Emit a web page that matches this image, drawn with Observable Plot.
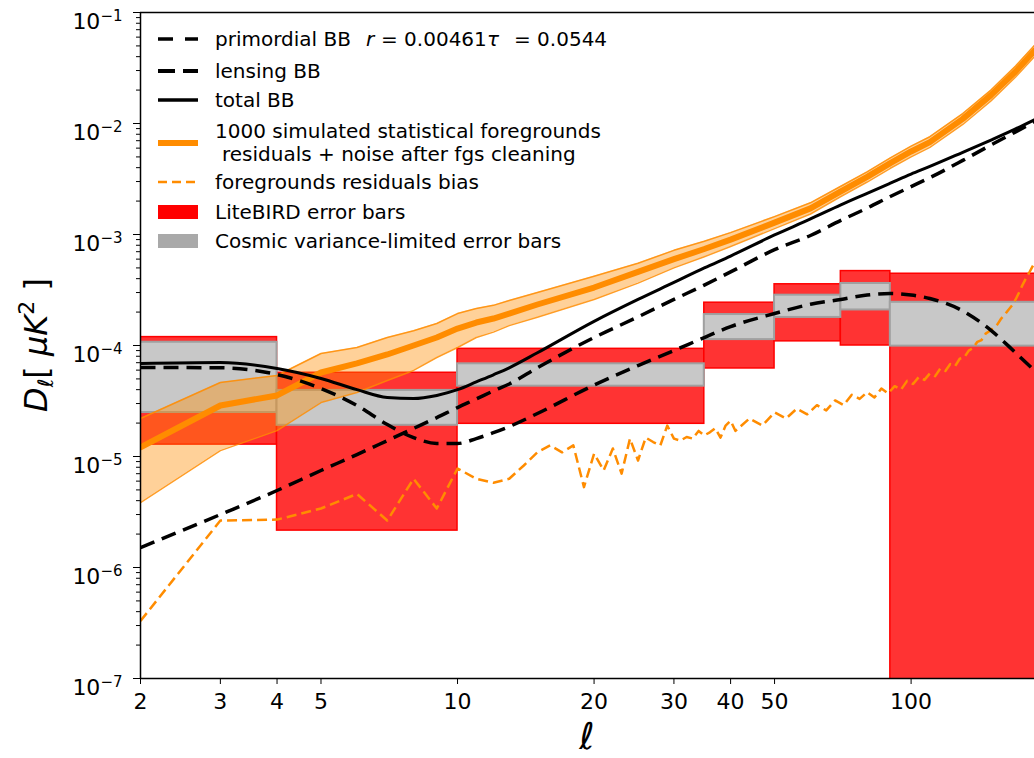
<!DOCTYPE html>
<html><head><meta charset="utf-8">
<script src="https://cdn.jsdelivr.net/npm/d3@7"></script>
<script src="https://cdn.jsdelivr.net/npm/@observablehq/plot@0.6"></script>
<style>
html,body{margin:0;padding:0;background:#fff;}
#chart svg{display:block;}
</style></head>
<body><div id="chart"></div>
<script>
// ---- data ----
const ell = [2,3,4,5,6,7,8,9,10,11,12,13,15,20,25,30,35,40,50,60,70,80,90,100,110,130,150,170,187];
const primordialBB = [6.34e-5,6.3e-5,5.48e-5,4.1e-5,2.88e-5,1.94e-5,1.48e-5,1.31e-5,1.31e-5,1.45e-5,1.64e-5,1.86e-5,2.44e-5,4.4e-5,6.6e-5,9.0e-5,1.18e-4,1.48e-4,1.94e-4,2.35e-4,2.6e-4,2.85e-4,2.94e-4,2.85e-4,2.65e-4,2.05e-4,1.37e-4,8.6e-5,5.96e-5];
const lensingBB = [1.51e-6,3.0e-6,4.94e-6,7.48e-6,1.04e-5,1.39e-5,1.79e-5,2.24e-5,2.76e-5,3.3e-5,3.9e-5,4.5e-5,6.3e-5,1.18e-4,1.81e-4,2.6e-4,3.5e-4,4.6e-4,7.3e-4,9.8e-4,1.34e-3,1.73e-3,2.2e-3,2.7e-3,3.25e-3,4.65e-3,6.4e-3,8.4e-3,1.04e-2];
const totalBB = [6.89e-5,7.03e-5,6.21e-5,5.05e-5,4.0e-5,3.4e-5,3.33e-5,3.55e-5,4.0e-5,4.7e-5,5.45e-5,6.3e-5,8.6e-5,1.65e-4,2.6e-4,3.7e-4,5.0e-4,6.4e-4,9.9e-4,1.38e-3,1.85e-3,2.35e-3,2.9e-3,3.5e-3,4.1e-3,5.5e-3,7.1e-3,8.95e-3,1.08e-2];
const fgMedian = [1.21e-5,2.88e-5,3.55e-5,5.71e-5,6.89e-5,8.3e-5,1.0e-4,1.18e-4,1.42e-4,1.61e-4,1.75e-4,1.94e-4,2.34e-4,3.33e-4,4.6e-4,6.0e-4,7.4e-4,9.0e-4,1.28e-3,1.72e-3,2.45e-3,3.3e-3,4.4e-3,5.6e-3,6.8e-3,1.1e-2,1.8e-2,2.94e-2,4.5e-2];
const fgLow = [3.85e-6,1.13e-5,1.71e-5,3.06e-5,3.77e-5,4.84e-5,5.96e-5,7.8e-5,9.6e-5,1.18e-4,1.32e-4,1.51e-4,1.8e-4,2.6e-4,3.65e-4,5.0e-4,6.3e-4,7.8e-4,1.13e-3,1.53e-3,2.2e-3,2.97e-3,3.95e-3,5.0e-3,6.1e-3,9.8e-3,1.6e-2,2.62e-2,4.0e-2];
const fgHigh = [2.2e-5,4.64e-5,5.37e-5,8.47e-5,9.6e-5,1.18e-4,1.36e-4,1.58e-4,1.94e-4,2.15e-4,2.3e-4,2.54e-4,3.0e-4,4.2e-4,5.5e-4,7.2e-4,8.7e-4,1.04e-3,1.45e-3,1.93e-3,2.72e-3,3.67e-3,4.9e-3,6.25e-3,7.6e-3,1.23e-2,2.0e-2,3.3e-2,5.05e-2];

const ellBias = [2,3,4,5,6,7,8,9,10,11,12,13,14,15,16,17,18,19,20,21,22,23,24,25,26,27,28,29,30,31,32,33,34,35,36,37,38,39,40,
  41,44,47,50,53,56,59,62,65,68,71,74,77,80,83,86,89,92,95,98,101,104,107,110,113,116,119,122,125,128,131,134,137,140,143,146,149,152,155,158,161,164,167,170,173,176,179,182,185,187];
const fgBias = [3.3e-7,2.65e-6,2.7e-6,3.4e-6,4.6e-6,2.65e-6,6.3e-6,3.4e-6,7.8e-6,6.3e-6,5.8e-6,6.3e-6,8.3e-6,1.09e-5,1.26e-5,1.09e-5,1.26e-5,5.3e-6,1.06e-5,7.5e-6,1.18e-5,7.0e-6,1.45e-5,9.2e-6,1.48e-5,1.35e-5,1.26e-5,1.9e-5,1.45e-5,1.39e-5,1.5e-5,1.45e-5,1.7e-5,1.55e-5,1.65e-5,1.8e-5,1.48e-5,1.9e-5,2.1e-5,
  1.7e-5,2.2e-5,1.9e-5,2.5e-5,2.2e-5,2.7e-5,2.4e-5,2.9e-5,2.6e-5,3.2e-5,2.9e-5,3.6e-5,3.3e-5,3.8e-5,3.4e-5,4.1e-5,3.7e-5,4.3e-5,4.0e-5,4.8e-5,4.5e-5,5.2e-5,4.9e-5,5.6e-5,5.3e-5,6.2e-5,5.9e-5,6.8e-5,6.5e-5,7.6e-5,7.8e-5,9.0e-5,9.5e-5,1.08e-4,1.12e-4,1.28e-4,1.35e-4,1.45e-4,1.55e-4,1.75e-4,1.9e-4,2.1e-4,2.3e-4,2.6e-4,3.0e-4,3.5e-4,4.0e-4,4.5e-4,5.1e-4,5.5e-4];

const binLo = [2,4,10,35,50,70,90];
const binHi = [4,10,35,50,70,90,200];
const liteLow = [1.28e-5,2.15e-6,1.97e-5,6.21e-5,1.09e-4,1.0e-4,1e-8];
const liteHigh = [1.19e-4,5.68e-5,9.33e-5,2.43e-4,3.56e-4,4.68e-4,4.43e-4];
const cvLow = [2.49e-5,1.91e-5,4.30e-5,1.13e-4,1.79e-4,2.09e-4,9.87e-5];
const cvHigh = [1.07e-4,3.94e-5,6.84e-5,1.90e-4,2.84e-4,3.62e-4,2.45e-4];

const xTicks = [2,3,4,5,10,20,30,40,50,100];
const yTicks = [1e-7,1e-6,1e-5,1e-4,1e-3,1e-2,1e-1];
const yMinor = [];
for (let e = -7; e < -1; e++) for (let m = 2; m <= 9; m++) yMinor.push(m * Math.pow(10, e));

// ---- tables ----
const curves = ell.map((l, i) => ({l, prim: primordialBB[i], lens: lensingBB[i], tot: totalBB[i], med: fgMedian[i], lo: fgLow[i], hi: fgHigh[i]}));
const bias = ellBias.map((l, i) => ({l, v: fgBias[i]}));
const bins = binLo.map((a, i) => ({a, b: binHi[i], rl: liteLow[i], rh: liteHigh[i], cl: cvLow[i], ch: cvHigh[i]}));

const ORANGE = "#ff8c00";
const plot = Plot.plot({
  width: 1034, height: 758,
  marginLeft: 140, marginRight: 0, marginTop: 12, marginBottom: 80,
  x: {type: "log", domain: [2, 187.1]},
  y: {type: "log", domain: [1e-7, 1e-1]},
  style: {fontFamily: "DejaVu Sans", background: "white", color: "black"},
  marks: [
    Plot.rectY(bins, {x1: "a", x2: "b", y1: "rl", y2: "rh", fill: "#ff3333", stroke: "#ff0000", strokeWidth: 1.5, clip: true}),
    Plot.rectY(bins, {x1: "a", x2: "b", y1: "cl", y2: "ch", fill: "#c8c8c8", stroke: "#a0a0a0", strokeWidth: 2, clip: true}),
    Plot.areaY(curves, {x: "l", y1: "lo", y2: "hi", fill: ORANGE, fillOpacity: 0.4, clip: true}),
    Plot.line(curves, {x: "l", y: "lo", stroke: ORANGE, strokeWidth: 1.5, strokeOpacity: 0.85, clip: true}),
    Plot.line(curves, {x: "l", y: "hi", stroke: ORANGE, strokeWidth: 1.5, strokeOpacity: 0.85, clip: true}),
    Plot.line(curves, {x: "l", y: "med", stroke: ORANGE, strokeWidth: 6, clip: true}),
    Plot.line(bias, {x: "l", y: "v", stroke: ORANGE, strokeWidth: 2.5, strokeDasharray: "10,5", strokeLinecap: "butt", clip: true}),
    Plot.line(curves, {x: "l", y: "lens", stroke: "black", strokeWidth: 3.5, strokeDasharray: "15,8", strokeLinecap: "butt", curve: "monotone-x", clip: true}),
    Plot.line(curves, {x: "l", y: "prim", stroke: "black", strokeWidth: 3.5, strokeDasharray: "15,8", strokeLinecap: "butt", curve: "monotone-x", clip: true}),
    Plot.line(curves, {x: "l", y: "tot", stroke: "black", strokeWidth: 3, curve: "monotone-x", clip: true}),
    Plot.ruleX([2], {stroke: "black", strokeWidth: 1.5}),
    Plot.ruleY([1e-7], {stroke: "black", strokeWidth: 1.5}),
    Plot.ruleY([1e-1], {stroke: "black", strokeWidth: 1.5}),
    Plot.axisX(xTicks, {tickSize: 6, tickPadding: 9, fontSize: 22, tickFormat: d => String(d), label: null}),
    Plot.axisY(yMinor, {tickSize: 4, tickFormat: () => "", label: null}),
    Plot.axisY(yTicks, {tickSize: 7, tickPadding: 11, fontSize: 22, tickFormat: d => "10^" + Math.round(Math.log10(d)), label: null})
  ]
});

const svg = d3.select(plot);
// superscript exponents on y tick labels
svg.selectAll('g[aria-label="y-axis tick label"] text').each(function() {
  const t = d3.select(this);
  const s = t.text();
  if (!s || s.indexOf("^") < 0) return;
  const exp = s.split("^")[1].replace("-", "\u2212");
  t.text(null).attr("dy", "0.45em");
  t.append("tspan").text("10");
  t.append("tspan").attr("font-size", 15).attr("dy", "-0.55em").text(exp);
});

const xs = plot.scale("x"), ys = plot.scale("y");
const cx = (xs.range[0] + xs.range[1]) / 2;

// x label
svg.append("text").attr("x", cx).attr("y", 749).attr("text-anchor", "middle")
  .attr("font-family", "DejaVu Sans").attr("font-style", "italic").attr("font-size", 37).text("\u2113");

// y label
const yl = svg.append("text").attr("transform", `translate(47,${(ys.range[0] + ys.range[1]) / 2}) rotate(-90)`)
  .attr("text-anchor", "middle").attr("font-family", "DejaVu Sans").attr("font-size", 32);
yl.append("tspan").attr("font-style", "italic").text("D");
yl.append("tspan").attr("font-style", "italic").attr("font-size", 21).attr("dy", 6).text("\u2113");
yl.append("tspan").attr("dy", -6).text("[ ");
yl.append("tspan").attr("font-style", "italic").text("\u03bcK");
yl.append("tspan").attr("font-size", 22).attr("dy", -13).text("2");
yl.append("tspan").attr("dy", 13).text(" ]");

// legend
const lg = svg.append("g").attr("font-family", "DejaVu Sans").attr("font-size", 20)
  .attr("fill", "black").attr("text-anchor", "start");
const hx1 = 158, hx2 = 198, tx = 215;
function hline(y, stroke, w, dash) {
  const l = lg.append("line").attr("x1", hx1).attr("x2", hx2).attr("y1", y).attr("y2", y)
    .attr("stroke", stroke).attr("stroke-width", w);
  if (dash) l.attr("stroke-dasharray", dash);
}
function label(y, txt, x) { return lg.append("text").attr("text-anchor", "start").attr("x", x || tx).attr("y", y).attr("dy", "0.35em").text(txt); }

hline(39, "black", 3.5, "15,12");
const t1 = lg.append("text").attr("text-anchor", "start").attr("y", 39).attr("dy", "0.35em");
t1.append("tspan").attr("x", tx).text("primordial BB");
t1.append("tspan").attr("x", 366).attr("font-style", "italic").text("r");
t1.append("tspan").attr("x", 381).text("= 0.00461");
t1.append("tspan").attr("x", 487).attr("font-style", "italic").text("\u03c4");
t1.append("tspan").attr("x", 514).text("= 0.0544");

hline(71, "black", 4, "17,8");
label(71, "lensing BB");
hline(100, "black", 3.5);
label(100, "total BB");
hline(143, ORANGE, 6);
label(131, "1000 simulated statistical foregrounds");
label(154, "residuals + noise after fgs cleaning", 222);
hline(182, ORANGE, 2.5, "9,5");
label(182, "foregrounds residuals bias");
lg.append("rect").attr("x", hx1).attr("y", 205).attr("width", 40).attr("height", 14).attr("fill", "#ff0000");
label(212, "LiteBIRD error bars");
lg.append("rect").attr("x", hx1).attr("y", 234).attr("width", 40).attr("height", 14).attr("fill", "#a9a9a9");
label(241, "Cosmic variance-limited error bars");

document.getElementById("chart").appendChild(plot);
</script>
</body></html>
